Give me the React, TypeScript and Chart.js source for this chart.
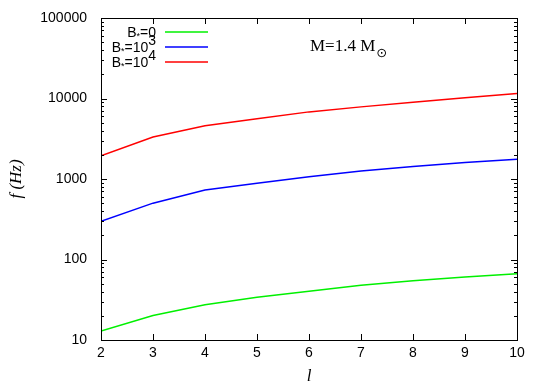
import React, { useEffect, useRef } from "react";
import { Chart, registerables } from "chart.js";

Chart.register(...registerables);

const ells = [2, 3, 4, 5, 6, 7, 8, 9, 10];
const fB0 = [12.9, 20.2, 27.4, 34.0, 40.4, 48.0, 54.4, 60.6, 66.7];
const fB3 = [298, 501, 729, 884, 1069, 1259, 1425, 1600, 1762];
const fB4 = [1940, 3320, 4600, 5620, 6820, 7870, 8990, 10200, 11550];

const seriesNames = ["B*=0", "B*=10^3", "B*=10^4"];
const seriesColors = ["#00f000", "#0000ff", "#ff0000"];
const yTickValues = [10, 100, 1000, 10000, 100000];
const xTickValues = [2, 3, 4, 5, 6, 7, 8, 9, 10];
const annotationText = "M=1.4 M";
const annotationSub = "⊙";
const xTitle = "l";
const yTitle = "f (Hz)";

const SANS = "'Liberation Sans', Arial, Helvetica, sans-serif";
const SERIF = "'Liberation Serif', 'Times New Roman', serif";

const framePlugin = {
  id: "framePlugin",
  afterDraw(chart: any) {
    const { ctx, chartArea } = chart;
    const { left, right, top, bottom } = chartArea;
    const xs = chart.scales.x;
    const ys = chart.scales.y;
    ctx.save();
    ctx.strokeStyle = "#000";
    ctx.lineWidth = 1;
    ctx.strokeRect(Math.round(left) + 0.5, Math.round(top) + 0.5, Math.round(right - left), Math.round(bottom - top));
    ctx.beginPath();
    for (const v of xTickValues) {
      const px = Math.round(xs.getPixelForValue(v)) + 0.5;
      ctx.moveTo(px, bottom);
      ctx.lineTo(px, bottom - 6);
      ctx.moveTo(px, top);
      ctx.lineTo(px, top + 6);
    }
    for (let d = 10; d <= 100000; d *= 10) {
      for (let m = 1; m <= 9; m++) {
        const v = d * m;
        if (v > 100000) break;
        const py = Math.round(ys.getPixelForValue(v)) + 0.5;
        const len = m === 1 ? 6 : 3;
        ctx.moveTo(left, py);
        ctx.lineTo(left + len, py);
        ctx.moveTo(right, py);
        ctx.lineTo(right - len, py);
      }
    }
    ctx.stroke();

    ctx.fillStyle = "#000";
    ctx.font = `italic 17px ${SERIF}`;
    ctx.textAlign = "center";
    ctx.textBaseline = "middle";
    ctx.fillText(xTitle, (left + right) / 2, 377);
    ctx.save();
    ctx.translate(17, (top + bottom) / 2);
    ctx.rotate(-Math.PI / 2);
    ctx.fillText(yTitle, 0, 0);
    ctx.restore();

    ctx.font = `17px ${SERIF}`;
    ctx.textAlign = "left";
    ctx.textBaseline = "alphabetic";
    ctx.fillText(annotationText, 310, 51);
    const w = ctx.measureText(annotationText).width;
    ctx.font = `13px 'DejaVu Sans'`;
    ctx.fillText(annotationSub, 310 + w + 1, 57);

    const rows = [32, 47, 62];
    seriesNames.forEach((name, i) => {
      const [lhs, rhs] = name.split("=");
      const [mant, sup] = rhs.split("^");
      const base = lhs.replace("*", "");
      const parts: { t: string; f: string; dy: number }[] = [
        { t: base, f: `14px ${SANS}`, dy: 0 },
        { t: "*", f: `9px ${SANS}`, dy: 2 },
        { t: "=" + mant, f: `14px ${SANS}`, dy: 0 },
      ];
      if (sup) parts.push({ t: sup, f: `14px ${SANS}`, dy: -7 });
      let total = 0;
      for (const p of parts) {
        ctx.font = p.f;
        total += ctx.measureText(p.t).width;
      }
      let x = 156 - total;
      const baseY = rows[i] + 5;
      for (const p of parts) {
        ctx.font = p.f;
        ctx.fillText(p.t, x, baseY + p.dy);
        x += ctx.measureText(p.t).width;
      }
      ctx.strokeStyle = seriesColors[i];
      ctx.lineWidth = 1.5;
      ctx.beginPath();
      ctx.moveTo(165, rows[i]);
      ctx.lineTo(208, rows[i]);
      ctx.stroke();
    });
    ctx.restore();
  },
};

export default function App() {
  const ref = useRef<HTMLCanvasElement>(null);
  useEffect(() => {
    if (!ref.current) return;
    const allSeries = [fB0, fB3, fB4];
    const chart = new Chart(ref.current, {
      type: "line",
      data: {
        datasets: allSeries.map((s, i) => ({
          label: seriesNames[i],
          data: s.map((v, j) => ({ x: ells[j], y: v })),
          borderColor: seriesColors[i],
          backgroundColor: seriesColors[i],
          borderWidth: 1.5,
          pointRadius: 0,
          tension: 0,
          fill: false,
        })),
      },
      options: {
        animation: false,
        responsive: false,
        maintainAspectRatio: false,
        layout: { padding: { left: 0, top: 18, right: 28, bottom: 0 } },
        plugins: { legend: { display: false }, tooltip: { enabled: false } },
        scales: {
          x: {
            type: "linear",
            min: 2,
            max: 10,
            afterFit: (s: any) => { s.height = 49; s.paddingLeft = 0; s.paddingRight = 0; },
            afterBuildTicks: (s: any) => { s.ticks = xTickValues.map((v) => ({ value: v })); },
            grid: { display: false, drawTicks: false },
            border: { display: false },
            ticks: { color: "#000", font: { family: SANS, size: 14 }, padding: 5, maxRotation: 0 },
          },
          y: {
            type: "logarithmic",
            min: 10,
            max: 100000,
            afterFit: (s: any) => { s.width = 101; s.paddingTop = 0; s.paddingBottom = 0; },
            afterBuildTicks: (s: any) => { s.ticks = yTickValues.map((v) => ({ value: v })); },
            grid: { display: false, drawTicks: false },
            border: { display: false },
            ticks: {
              color: "#000",
              font: { family: SANS, size: 14 },
              padding: 14,
              callback: (v: any) => String(v),
            },
          },
        },
      },
      plugins: [framePlugin],
    });
    return () => chart.destroy();
  }, []);
  return (
    <div style={{ position: "absolute", left: 0, top: 0, width: 545, height: 389, background: "#fff" }}>
      <canvas ref={ref} width={545} height={389} />
    </div>
  );
}
